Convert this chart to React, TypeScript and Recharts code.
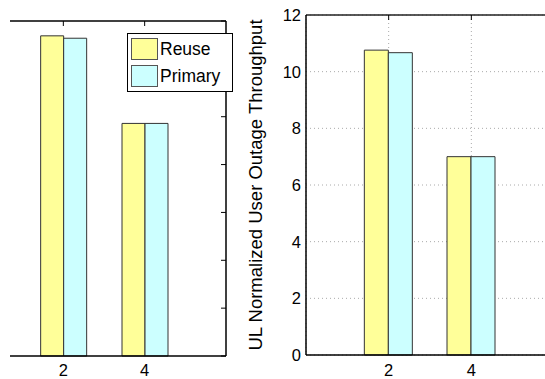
import { BarChart, Bar, XAxis, YAxis, CartesianGrid, Label } from "recharts";

const categories = [2, 4];
const seriesNames = ["Reuse", "Primary"];
const seriesColors = ["#FFFF99", "#CCFFFF"];

// left panel (its y scale has no labels, only ticks)
const leftReuse = [6.69, 4.86];
const leftPrimary = [6.64, 4.86];
const leftTicks = [0, 1, 2, 3, 4, 5, 6, 7];

// right panel
const rightReuse = [10.76, 7.0];
const rightPrimary = [10.67, 7.0];
const rightTicks = [0, 2, 4, 6, 8, 10, 12];

const xTicks = [2, 4];
const yLabel = "UL Normalized User Outage Throughput";

const font = '"Liberation Sans", Arial, sans-serif';

const leftData = categories.map((c, i) => ({
  x: c,
  Reuse: leftReuse[i],
  Primary: leftPrimary[i],
}));

const rightData = categories.map((c, i) => ({
  x: c,
  Reuse: rightReuse[i],
  Primary: rightPrimary[i],
}));

const tickStyle = { fontSize: 16.5, fill: "#000", fontFamily: font };

// tick marks only, no text
const noLabel = () => <g />;

const LegendBox = () => (
  <div
    style={{
      position: "absolute",
      left: 127,
      top: 33,
      width: 104,
      height: 57,
      border: "1px solid #000",
      background: "#fff",
      fontFamily: font,
      fontSize: 17.5,
      color: "#000",
    }}
  >
    {seriesNames.map((name, i) => (
      <div
        key={name}
        style={{
          position: "absolute",
          left: 3,
          top: 4 + i * 27,
          display: "flex",
          alignItems: "center",
          gap: 2,
        }}
      >
        <div
          style={{
            width: 25,
            height: 20,
            background: seriesColors[i],
            border: "1px solid #555",
          }}
        />
        <span>{name}</span>
      </div>
    ))}
  </div>
);

export default function App() {
  return (
    <div
      style={{
        position: "absolute",
        left: 0,
        top: 0,
        width: 545,
        height: 379,
        overflow: "hidden",
        background: "#fff",
      }}
    >
      {/* left panel, cut at its left side */}
      <div
        style={{
          position: "absolute",
          left: 10,
          top: 0,
          width: 218,
          height: 379,
          overflow: "hidden",
        }}
      >
        <div style={{ position: "absolute", left: -28, top: 0 }}>
          <BarChart
            width={246}
            height={379}
            data={leftData}
            margin={{ top: 21, right: 2, bottom: 0, left: 0 }}
            barGap={0}
          >
            <XAxis
              dataKey="x"
              type="number"
              domain={[0, 6]}
              ticks={xTicks}
              height={23}
              tickLine={false}
              tickSize={0}
              tickMargin={8}
              axisLine={{ stroke: "#000", strokeWidth: 1.5 }}
              tick={tickStyle}
            />
            <XAxis
              xAxisId="top"
              dataKey="x"
              type="number"
              orientation="top"
              mirror
              domain={[0, 6]}
              ticks={xTicks}
              tick={noLabel}
              tickSize={5}
              axisLine={{ stroke: "#000", strokeWidth: 1.5 }}
              tickLine={{ stroke: "#000" }}
            />
            <YAxis
              orientation="right"
              mirror
              type="number"
              domain={[0, 7]}
              ticks={leftTicks}
              tick={noLabel}
              tickSize={5}
              axisLine={{ stroke: "#000", strokeWidth: 1.5 }}
              tickLine={{ stroke: "#000" }}
            />
            <Bar
              dataKey="Reuse"
              fill={seriesColors[0]}
              stroke="#333"
              barSize={23}
              isAnimationActive={false}
            />
            <Bar
              dataKey="Primary"
              fill={seriesColors[1]}
              stroke="#333"
              barSize={23}
              isAnimationActive={false}
            />
          </BarChart>
        </div>
      </div>

      {/* right panel */}
      <div style={{ position: "absolute", left: 230, top: 0 }}>
        <BarChart
          width={324}
          height={379}
          data={rightData}
          margin={{ top: 15, right: 0, bottom: 0, left: 0 }}
          barGap={0}
        >
          <CartesianGrid stroke="#aaa" strokeDasharray="1 3" />
          <XAxis
            dataKey="x"
            type="number"
            domain={[0, 6]}
            ticks={xTicks}
            height={24}
            tickLine={false}
            tickSize={0}
            tickMargin={9}
            axisLine={{ stroke: "#000", strokeWidth: 1.5 }}
            tick={tickStyle}
          />
          <XAxis
            xAxisId="top"
            dataKey="x"
            type="number"
            orientation="top"
            mirror
            domain={[0, 6]}
            ticks={xTicks}
            tick={noLabel}
            tickSize={5}
            axisLine={{ stroke: "#222", strokeWidth: 1.5 }}
            tickLine={{ stroke: "#000" }}
          />
          <YAxis
            type="number"
            domain={[0, 12]}
            ticks={rightTicks}
            width={76}
            tickLine={false}
            tickSize={0}
            tickMargin={5}
            axisLine={{ stroke: "#000", strokeWidth: 1.5 }}
            tick={tickStyle}
          >
            <Label
              content={(props: any) => {
                const vb = props.viewBox || {};
                const cx = (vb.x || 0) + 25;
                const cy = (vb.y || 0) + (vb.height || 0) / 2;
                return (
                  <text
                    x={cx}
                    y={cy}
                    transform={`rotate(-90 ${cx} ${cy})`}
                    textAnchor="middle"
                    dominantBaseline="central"
                    fontSize={18.5}
                    fontFamily={font}
                    fill="#000"
                  >
                    {yLabel}
                  </text>
                );
              }}
            />
          </YAxis>
          <YAxis
            yAxisId="ticks"
            type="number"
            mirror
            domain={[0, 12]}
            ticks={rightTicks}
            tick={noLabel}
            tickSize={5}
            axisLine={false}
            tickLine={{ stroke: "#000" }}
          />
          <Bar
            dataKey="Reuse"
            fill={seriesColors[0]}
            stroke="#333"
            barSize={24}
            isAnimationActive={false}
          />
          <Bar
            dataKey="Primary"
            fill={seriesColors[1]}
            stroke="#333"
            barSize={24}
            isAnimationActive={false}
          />
        </BarChart>
      </div>

      <LegendBox />
    </div>
  );
}
